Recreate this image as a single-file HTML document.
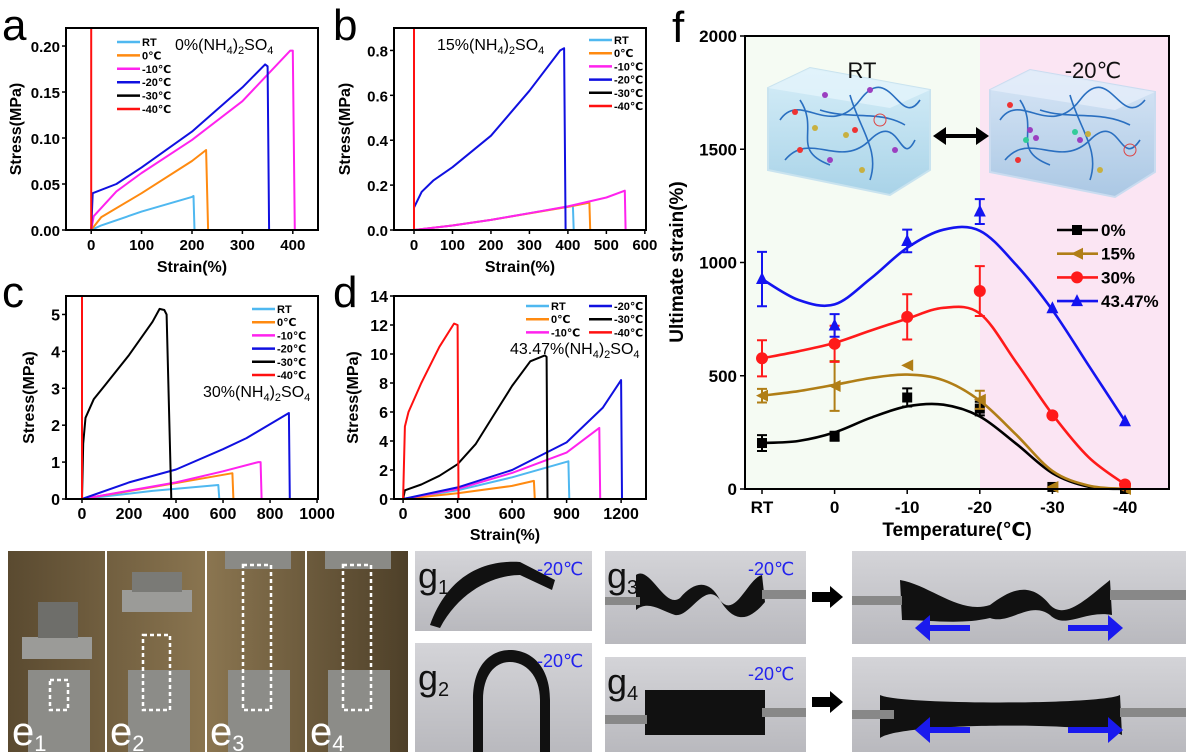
<!DOCTYPE html>
<html><head><meta charset="utf-8">
<style>
html,body{margin:0;padding:0;background:#fff;}
svg{display:block;font-family:"Liberation Sans","DejaVu Sans",sans-serif;}
</style></head>
<body>
<svg id="fig" width="1186" height="752" viewBox="0 0 1186 752" xmlns="http://www.w3.org/2000/svg">
<defs>
<linearGradient id="ephoto" x1="0" y1="0" x2="1" y2="0">
<stop offset="0" stop-color="#5a4a30"/><stop offset="0.5" stop-color="#8a7550"/><stop offset="1" stop-color="#4e4029"/>
</linearGradient>
<linearGradient id="gphoto" x1="0" y1="0" x2="0" y2="1">
<stop offset="0" stop-color="#d4d4d8"/><stop offset="1" stop-color="#b9b9be"/>
</linearGradient>
<linearGradient id="cube" x1="0" y1="0" x2="0" y2="1">
<stop offset="0" stop-color="#d6eef8"/><stop offset="1" stop-color="#a9d3e8"/>
</linearGradient>
<linearGradient id="cube2" x1="0" y1="0" x2="0" y2="1">
<stop offset="0" stop-color="#d8e6f6"/><stop offset="1" stop-color="#abc8e4"/>
</linearGradient>
</defs>

<rect x="745" y="36" width="235" height="453" fill="#f5fbf3"/>
<rect x="980" y="36" width="189" height="453" fill="#fbe5f3"/>

<g>
<polygon points="768,88 810,68 930,90 930,170 890,195 768,170" fill="url(#cube)" stroke="#c9e3ef" stroke-width="2"/>
<polygon points="768,88 810,68 930,90 890,108" fill="#e4f4fb" opacity="0.8"/>
<path d="M780,120 C800,90 830,140 860,100 S900,130 920,100 M785,160 C810,130 840,170 870,140 S900,170 915,140 M800,100 C820,130 790,150 830,165 M850,95 C860,130 880,150 870,180 M820,110 C850,120 880,110 905,125" fill="none" stroke="#2a6fc0" stroke-width="1.6"/>
<circle cx="795" cy="112" r="3" fill="#e33"/><circle cx="855" cy="130" r="3" fill="#e33"/><circle cx="800" cy="150" r="3" fill="#e33"/>
<circle cx="815" cy="128" r="3" fill="#c8b040"/><circle cx="846" cy="135" r="3" fill="#c8b040"/><circle cx="862" cy="170" r="3" fill="#c8b040"/>
<circle cx="825" cy="95" r="3" fill="#9b3fc0"/><circle cx="870" cy="90" r="3" fill="#9b3fc0"/><circle cx="895" cy="150" r="3" fill="#9b3fc0"/><circle cx="830" cy="160" r="3" fill="#9b3fc0"/>
<circle cx="880" cy="120" r="6" fill="none" stroke="#d44" stroke-width="1"/>
</g>
<g>
<polygon points="990,90 1030,70 1155,92 1155,172 1115,197 990,172" fill="url(#cube2)" stroke="#cadcf0" stroke-width="2"/>
<polygon points="990,90 1030,70 1155,92 1115,110" fill="#e5eefa" opacity="0.8"/>
<path d="M1000,120 C1020,90 1050,140 1080,100 S1120,130 1145,100 M1005,160 C1030,130 1060,170 1090,140 S1120,170 1140,140 M1020,100 C1040,130 1010,150 1050,165 M1070,95 C1080,130 1100,150 1090,180 M1040,110 C1070,120 1100,110 1130,125" fill="none" stroke="#2a6fc0" stroke-width="1.6"/>
<circle cx="1030" cy="130" r="3" fill="#9b3fc0"/><circle cx="1036" cy="138" r="3" fill="#9b3fc0"/><circle cx="1026" cy="140" r="3" fill="#3c9"/>
<circle cx="1080" cy="140" r="3" fill="#9b3fc0"/><circle cx="1088" cy="134" r="3" fill="#c8b040"/><circle cx="1075" cy="132" r="3" fill="#3c9"/>
<circle cx="1010" cy="105" r="3" fill="#e33"/><circle cx="1018" cy="160" r="3" fill="#e33"/><circle cx="1100" cy="170" r="3" fill="#c8b040"/>
<circle cx="1130" cy="150" r="6" fill="none" stroke="#d44" stroke-width="1"/>
</g>
<text x="862" y="78" font-size="22" text-anchor="middle" fill="#111">RT</text>
<text x="1093" y="78" font-size="22" text-anchor="middle" fill="#111">-20℃</text>
<g>
<line x1="942" y1="136" x2="980" y2="136" stroke="#000" stroke-width="4"/>
<polygon points="933,136 946,127 946,145" fill="#000"/><polygon points="989,136 976,127 976,145" fill="#000"/>
</g>

<g id="charts"></g>

<text x="2" y="40" font-size="44" fill="#000">a</text>
<text x="333" y="40" font-size="44" fill="#000">b</text>
<text x="2" y="307" font-size="44" fill="#000">c</text>
<text x="333" y="307" font-size="44" fill="#000">d</text>
<text x="672" y="42" font-size="44" fill="#000">f</text>

<g>
<rect x="8" y="551" width="400" height="201" fill="url(#ephoto)"/>
<line x1="106" y1="551" x2="106" y2="752" stroke="#fff" stroke-width="2"/>
<line x1="206" y1="551" x2="206" y2="752" stroke="#fff" stroke-width="2"/>
<line x1="306" y1="551" x2="306" y2="752" stroke="#fff" stroke-width="2"/>
<rect x="28" y="670" width="62" height="82" fill="#8c8c88"/><rect x="22" y="637" width="70" height="22" fill="#9b9b98"/><rect x="38" y="602" width="40" height="36" fill="#6e6e6a"/>
<rect x="128" y="670" width="62" height="82" fill="#8c8c88"/><rect x="122" y="590" width="70" height="22" fill="#9b9b98"/><rect x="132" y="572" width="50" height="20" fill="#7a7a76"/>
<rect x="228" y="670" width="62" height="82" fill="#8c8c88"/><rect x="225" y="551" width="66" height="18" fill="#8a8a86"/>
<rect x="328" y="670" width="62" height="82" fill="#8c8c88"/><rect x="325" y="551" width="66" height="18" fill="#8a8a86"/>
<rect x="50" y="680" width="18" height="30" fill="none" stroke="#fff" stroke-width="2.5" stroke-dasharray="4,3"/>
<rect x="143" y="635" width="27" height="75" fill="none" stroke="#fff" stroke-width="2.5" stroke-dasharray="4,3"/>
<rect x="243" y="565" width="28" height="145" fill="none" stroke="#fff" stroke-width="2.5" stroke-dasharray="4,3"/>
<rect x="343" y="565" width="28" height="145" fill="none" stroke="#fff" stroke-width="2.5" stroke-dasharray="4,3"/>
</g>
<text x="12" y="745" font-size="40" fill="#fff">e<tspan font-size="22" dy="6">1</tspan></text>
<text x="110" y="745" font-size="40" fill="#fff">e<tspan font-size="22" dy="6">2</tspan></text>
<text x="210" y="745" font-size="40" fill="#fff">e<tspan font-size="22" dy="6">3</tspan></text>
<text x="310" y="745" font-size="40" fill="#fff">e<tspan font-size="22" dy="6">4</tspan></text>

<g>
<rect x="415" y="551" width="177" height="80" fill="url(#gphoto)"/>
<rect x="415" y="643" width="177" height="109" fill="url(#gphoto)"/>
<rect x="605" y="551" width="201" height="93" fill="url(#gphoto)"/>
<rect x="605" y="657" width="201" height="95" fill="url(#gphoto)"/>
<rect x="852" y="551" width="334" height="93" fill="url(#gphoto)"/>
<rect x="852" y="657" width="334" height="95" fill="url(#gphoto)"/>
<path d="M430,625 C450,570 490,560 520,562 L555,580 L552,590 L520,575 C495,575 460,590 440,628 Z" fill="#111"/>
<path d="M473,752 L473,700 C473,660 495,650 510,650 C530,650 550,665 550,700 L550,752 L540,752 L540,700 C540,675 525,662 510,662 C495,662 483,675 483,700 L483,752 Z" fill="#111"/>
<path d="M636,575 C650,565 665,610 680,598 C695,580 710,580 720,600 C735,620 748,578 762,575 L765,602 C750,620 735,625 720,600 C705,580 690,618 675,615 C660,610 648,600 636,610 Z" fill="#111"/>
<path d="M900,580 C930,585 960,615 990,605 C1010,590 1030,580 1050,605 C1065,620 1085,600 1110,580 L1112,615 C1085,610 1065,630 1050,615 C1030,600 1010,625 990,618 C960,625 930,620 902,620 Z" fill="#111"/>
<rect x="645" y="690" width="120" height="45" fill="#111"/>
<path d="M880,695 C900,705 1100,705 1120,695 L1122,735 C1100,722 900,722 880,738 Z" fill="#111"/>
<rect x="605" y="597" width="35" height="8" fill="#888"/><rect x="762" y="590" width="44" height="9" fill="#888"/>
<rect x="852" y="596" width="50" height="9" fill="#888"/><rect x="1110" y="590" width="76" height="10" fill="#888"/>
<rect x="605" y="715" width="42" height="9" fill="#888"/><rect x="762" y="708" width="44" height="9" fill="#888"/>
<rect x="852" y="710" width="42" height="9" fill="#888"/><rect x="1120" y="708" width="66" height="9" fill="#888"/>
</g>
<text x="418" y="588" font-size="36" fill="#111">g<tspan font-size="20" dy="6">1</tspan></text>
<text x="418" y="690" font-size="36" fill="#111">g<tspan font-size="20" dy="6">2</tspan></text>
<text x="607" y="588" font-size="36" fill="#111">g<tspan font-size="20" dy="6">3</tspan></text>
<text x="607" y="694" font-size="36" fill="#111">g<tspan font-size="20" dy="6">4</tspan></text>
<text x="537" y="575" font-size="18" fill="#2222ee">-20℃</text>
<text x="537" y="667" font-size="18" fill="#2222ee">-20℃</text>
<text x="748" y="575" font-size="18" fill="#2222ee">-20℃</text>
<text x="748" y="680" font-size="18" fill="#2222ee">-20℃</text>
<g>
<rect x="812" y="592" width="20" height="10" fill="#000"/><polygon points="830,586 843,597 830,608" fill="#000"/>
<rect x="812" y="697" width="20" height="10" fill="#000"/><polygon points="830,691 843,702 830,713" fill="#000"/>
</g>
<g fill="#1a1aee">
<rect x="925" y="625" width="45" height="6"/><polygon points="915,628 930,615 930,641"/>
<rect x="1068" y="625" width="45" height="6"/><polygon points="1123,628 1108,615 1108,641"/>
<rect x="925" y="727" width="45" height="6"/><polygon points="915,730 930,717 930,743"/>
<rect x="1068" y="727" width="45" height="6"/><polygon points="1123,730 1108,717 1108,743"/>
</g>
</svg>

<script>
const aRT  = [[0,0],[20,0.005],[100,0.02],[200,0.036],[203,0.037],[205,0]];
const a0   = [[0,0],[20,0.014],[100,0.04],[200,0.075],[228,0.087],[232,0]];
const aM10 = [[0,0],[5,0.015],[50,0.042],[100,0.062],[200,0.098],[300,0.14],[395,0.195],[400,0.195],[404,0]];
const aM20 = [[0,0],[3,0.04],[50,0.05],[100,0.068],[200,0.107],[300,0.155],[345,0.18],[350,0.178],[353,0]];
const aM40 = [[0,0],[0,0.3]];
const bRT  = [[0,0],[100,0.02],[200,0.045],[300,0.075],[413,0.108],[415,0]];
const b0   = [[0,0],[100,0.02],[200,0.045],[300,0.074],[400,0.103],[456,0.122],[458,0]];
const bM10 = [[0,0],[100,0.02],[200,0.045],[300,0.075],[400,0.105],[500,0.145],[548,0.175],[550,0]];
const bM20 = [[0,0],[0,0.1],[20,0.17],[50,0.22],[100,0.28],[200,0.42],[300,0.62],[380,0.8],[390,0.81],[394,0]];
const bM40 = [[0,0],[0,1]];
const cRT  = [[0,0],[300,0.22],[580,0.38],[584,0]];
const c0   = [[0,0],[300,0.32],[640,0.7],[644,0]];
const cM10 = [[0,0],[400,0.45],[600,0.75],[750,1.0],[760,1.0],[764,0]];
const cM20 = [[0,0],[200,0.45],[400,0.8],[600,1.35],[700,1.65],[880,2.33],[884,0]];
const cM30 = [[0,0],[5,1.5],[15,2.2],[50,2.7],[100,3.1],[200,3.9],[300,4.8],[330,5.15],[350,5.12],[360,5.0],[380,0]];
const cM40 = [[0,0],[0,6]];
const dRT  = [[0,0],[300,0.6],[600,1.5],[910,2.6],[915,0]];
const d0   = [[0,0],[300,0.4],[600,0.9],[720,1.25],[725,0]];
const dM10 = [[0,0],[300,0.7],[600,1.8],[900,3.2],[1080,4.9],[1085,0]];
const dM20 = [[0,0],[300,0.8],[600,2.0],[900,3.9],[1100,6.3],[1200,8.2],[1205,0]];
const dM30 = [[0,0],[10,0.6],[100,1.0],[200,1.6],[300,2.4],[400,3.8],[500,5.8],[600,7.8],[700,9.5],[780,9.9],[790,9.8],[795,0]];
const dM40 = [[0,0],[10,5],[30,6],[100,8],[200,10.5],[280,12.1],[300,12],[305,0]];
const fCats = ["RT","0","-10","-20","-30","-40"];
const fYTicks = [0,500,1000,1500,2000];
const f0  = [203,233,404,355,9,0];
const f15 = [412,455,546,394,9,0];
const f30 = [577,641,760,874,325,20];
const f43 = [927,722,1095,1225,798,299];
const f0Err  = [35,20,40,30,0,0];
const f15Err = [30,110,0,40,0,0];
const f30Err = [80,80,100,110,0,0];
const f43Err = [120,50,50,55,0,0];
const f0Fit  = [203,212,250,315,365,372,320,200,70,10,0];
const f15Fit = [412,432,460,490,505,480,390,240,80,15,0];
const f30Fit = [577,608,645,700,752,800,775,560,330,140,20];
const f43Fit = [927,835,815,930,1065,1145,1140,990,790,545,300];

const NS = "http://www.w3.org/2000/svg";
const root = document.getElementById("charts");
function mk(tag, attrs, parent){
  const e = document.createElementNS(NS, tag);
  for (const k in attrs) e.setAttribute(k, attrs[k]);
  (parent||root).appendChild(e);
  return e;
}
const COL = {RT:"#4fb8f0", c0:"#ff8a10", m10:"#ff22ee", m20:"#1010e0", m30:"#000000", m40:"#ff1010"};

function panel(p){
  const g = mk("g", {});
  
  
  const sx = v => p.x0 + (v - p.xmin) / (p.xmax - p.xmin) * (p.x1 - p.x0);
  const sy = v => p.y1 - (v - p.ymin) / (p.ymax - p.ymin) * (p.y1 - p.y0);
  const cid = "clip-" + p.name;
  const cp = mk("clipPath", {id: cid}, g);
  mk("rect", {x:p.x0, y:p.y0, width:p.x1-p.x0, height:p.y1-p.y0}, cp);
  const sg = mk("g", {"clip-path":"url(#"+cid+")"}, g);
  p.series.forEach(s => {
    const d = s.data.map((pt,i) => (i?"L":"M") + sx(pt[0]).toFixed(1) + "," + sy(pt[1]).toFixed(1)).join(" ");
    const path = mk("path", {d:d, fill:"none", stroke:s.color, "stroke-width":2, "stroke-linejoin":"round"}, sg);
    
    
  });
  const fr = mk("rect", {x:p.x0, y:p.y0, width:p.x1-p.x0, height:p.y1-p.y0, fill:"none", stroke:"#000", "stroke-width":2}, g);
  
  
  p.xticks.forEach(v => {
    const x = sx(v);
    mk("line", {x1:x, x2:x, y1:p.y1, y2:p.y1+4, stroke:"#000", "stroke-width":1.5}, g);
    const t = mk("text", {x:x, y:p.y1+20, "text-anchor":"middle", "font-size":p.fs, "font-weight":"bold"}, g);
    t.textContent = String(v);
    
    
  });
  p.yticks.forEach(v => {
    const y = sy(v);
    mk("line", {x1:p.x0-4, x2:p.x0, y1:y, y2:y, stroke:"#000", "stroke-width":1.5}, g);
    const t = mk("text", {x:p.x0-6, y:y+6, "text-anchor":"end", "font-size":p.fs, "font-weight":"bold"}, g);
    t.textContent = p.yfmt(v);
    
    
  });
  const yt = mk("text", {x:0, y:0, transform:"translate("+p.ytx+","+((p.y0+p.y1)/2)+") rotate(-90)", "text-anchor":"middle", "font-size":16, "font-weight":"bold"}, g);
  yt.textContent = "Stress(MPa)";
  
  
  if (p.xtitle){
    const xt = mk("text", {x:p.xtx, y:p.xty, "text-anchor":"middle", "font-size":16, "font-weight":"bold"}, g);
    xt.textContent = "Strain(%)";
    
    
  }
  p.legend.forEach(L => {
    mk("line", {x1:L.x, x2:L.x+L.w, y1:L.y, y2:L.y, stroke:L.color, "stroke-width":2.5}, g);
    const t = mk("text", {x:L.x+L.w+2, y:L.y+4, "font-size":11, "font-weight":"bold"}, g);
    t.textContent = L.label;
    
    
  });
  const tt = mk("text", {x:p.tx, y:p.ty, "font-size":16}, g);
  tt.innerHTML = p.title + '(NH<tspan font-size="11" dy="4">4</tspan><tspan dy="-4">)</tspan><tspan font-size="11" dy="4">2</tspan><tspan dy="-4">SO</tspan><tspan font-size="11" dy="4">4</tspan>';
  
  
}
function leg6(x, y0, dy, w, cols){
  const labels = ["RT","0℃","-10℃","-20℃","-30℃","-40℃"];
  const colors = [COL.RT, COL.c0, COL.m10, COL.m20, COL.m30, COL.m40];
  return labels.map((l,i) => cols
    ? {x: x + Math.floor(i/3)*63, y: y0 + (i%3)*dy, w: w, label: l, color: colors[i]}
    : {x: x, y: y0 + i*dy, w: w, label: l, color: colors[i]});
}

panel({name:"panel-a", x0:66, x1:318, y0:28, y1:230, xmin:-50, xmax:450, ymin:0, ymax:0.2196,
  xticks:[0,100,200,300,400], yticks:[0,0.05,0.10,0.15,0.20], yfmt:v=>v.toFixed(2), fs:15,
  ytx:21, xtitle:true, xtx:192, xty:272, tx:175, ty:50, title:"0%",
  legend: leg6(117, 42, 13.4, 23),
  series:[{name:"a-rt",data:aRT,color:COL.RT},{name:"a-0c",data:a0,color:COL.c0},{name:"a-m10c",data:aM10,color:COL.m10},{name:"a-m20c",data:aM20,color:COL.m20},{name:"a-m40c",data:aM40,color:COL.m40}]});
panel({name:"panel-b", x0:394, x1:646, y0:28, y1:230, xmin:-52, xmax:603, ymin:0, ymax:0.9,
  xticks:[0,100,200,300,400,500,600], yticks:[0,0.2,0.4,0.6,0.8], yfmt:v=>v.toFixed(1), fs:15,
  ytx:350, xtitle:true, xtx:520, xty:272, tx:437, ty:50, title:"15%",
  legend: leg6(589, 40, 13.2, 23),
  series:[{name:"b-rt",data:bRT,color:COL.RT},{name:"b-0c",data:b0,color:COL.c0},{name:"b-m10c",data:bM10,color:COL.m10},{name:"b-m20c",data:bM20,color:COL.m20},{name:"b-m40c",data:bM40,color:COL.m40}]});
panel({name:"panel-c", x0:66, x1:318, y0:296, y1:499, xmin:-68, xmax:1004, ymin:0, ymax:5.5,
  xticks:[0,200,400,600,800,1000], yticks:[0,1,2,3,4,5], yfmt:v=>String(v), fs:16,
  ytx:34, xtitle:false, tx:203, ty:397, title:"30%",
  legend: leg6(252, 309, 13.2, 23),
  series:[{name:"c-rt",data:cRT,color:COL.RT},{name:"c-0c",data:c0,color:COL.c0},{name:"c-m10c",data:cM10,color:COL.m10},{name:"c-m20c",data:cM20,color:COL.m20},{name:"c-m30c",data:cM30,color:COL.m30},{name:"c-m40c",data:cM40,color:COL.m40}]});
panel({name:"panel-d", x0:394, x1:646, y0:296, y1:499, xmin:-50, xmax:1337, ymin:0, ymax:14,
  xticks:[0,300,600,900,1200], yticks:[0,2,4,6,8,10,12,14], yfmt:v=>String(v), fs:16,
  ytx:358, xtitle:true, xtx:505, xty:540, tx:510, ty:354, title:"43.47%",
  legend: leg6(526, 306, 13.2, 23, true),
  series:[{name:"d-rt",data:dRT,color:COL.RT},{name:"d-0c",data:d0,color:COL.c0},{name:"d-m10c",data:dM10,color:COL.m10},{name:"d-m20c",data:dM20,color:COL.m20},{name:"d-m30c",data:dM30,color:COL.m30},{name:"d-m40c",data:dM40,color:COL.m40}]});

(function(){
  const X0=745, X1=1169, Y0=36, Y1=489;
  const g = mk("g", {});
  
  
  const sx = i => 762 + i * 72.6;
  const sy = v => Y1 - v / 2000 * (Y1 - Y0);
  const series = [
    {name:"0%", vals:f0, err:f0Err, fit:f0Fit, color:"#000000", m:"sq"},
    {name:"15%", vals:f15, err:f15Err, fit:f15Fit, color:"#b07e16", m:"lt"},
    {name:"30%", vals:f30, err:f30Err, fit:f30Fit, color:"#ff1a1a", m:"ci"},
    {name:"43.47%", vals:f43, err:f43Err, fit:f43Fit, color:"#1414f0", m:"tu"}];
  function marker(par, m, x, y, c, s){
    let e;
    if (m==="sq") e = mk("rect", {x:x-s, y:y-s, width:2*s, height:2*s, fill:c}, par);
    else if (m==="ci") e = mk("circle", {cx:x, cy:y, r:s+1, fill:c}, par);
    else if (m==="lt") e = mk("polygon", {points:(x-s-1)+","+y+" "+(x+s+1)+","+(y-s-1)+" "+(x+s+1)+","+(y+s+1), fill:c}, par);
    else e = mk("polygon", {points:x+","+(y-s-2)+" "+(x-s-1)+","+(y+s)+" "+(x+s+1)+","+(y+s), fill:c}, par);
    return e;
  }
  series.forEach(s => {
    const pts = s.fit.map((v,i) => [762 + i*36.3, sy(v)]);
    let d = "M" + pts[0][0] + "," + pts[0][1];
    for (let i=0;i<pts.length-1;i++){
      const p0 = pts[Math.max(0,i-1)], p1 = pts[i], p2 = pts[i+1], p3 = pts[Math.min(pts.length-1,i+2)];
      const c1x = p1[0] + (p2[0]-p0[0])/6, c1y = p1[1] + (p2[1]-p0[1])/6;
      const c2x = p2[0] - (p3[0]-p1[0])/6, c2y = p2[1] - (p3[1]-p1[1])/6;
      d += " C" + c1x.toFixed(1)+","+c1y.toFixed(1)+" "+c2x.toFixed(1)+","+c2y.toFixed(1)+" "+p2[0].toFixed(1)+","+p2[1].toFixed(1);
    }
    const fp = mk("path", {d:d, fill:"none", stroke:s.color, "stroke-width":2.6}, g);
    
    
    s.vals.forEach((v,i) => {
      const x = sx(i), y = sy(v);
      if (s.err[i] > 0){
        const eb = mk("path", {d:"M"+x+","+sy(v-s.err[i])+"V"+sy(v+s.err[i])+"M"+(x-5)+","+sy(v+s.err[i])+"h10M"+(x-5)+","+sy(v-s.err[i])+"h10", stroke:s.color, "stroke-width":2, fill:"none"}, g);
        
        
      }
      const mm = marker(g, s.m, x, y, s.color, 5);
      
      
    });
  });
  const fr = mk("rect", {x:X0, y:Y0, width:X1-X0, height:Y1-Y0, fill:"none", stroke:"#000", "stroke-width":2}, g);
  
  
  fCats.forEach((c,i) => {
    const x = sx(i);
    mk("line", {x1:x, x2:x, y1:Y1, y2:Y1+5, stroke:"#000", "stroke-width":1.5}, g);
    const t = mk("text", {x:x, y:Y1+24, "text-anchor":"middle", "font-size":17, "font-weight":"bold"}, g);
    t.textContent = c;
    
    
  });
  fYTicks.forEach(v => {
    const y = sy(v);
    mk("line", {x1:X0-5, x2:X0, y1:y, y2:y, stroke:"#000", "stroke-width":1.5}, g);
    const t = mk("text", {x:X0-8, y:y+6, "text-anchor":"end", "font-size":17, "font-weight":"bold"}, g);
    t.textContent = String(v);
    
    
  });
  const yt = mk("text", {transform:"translate(683,262) rotate(-90)", "text-anchor":"middle", "font-size":19, "font-weight":"bold"}, g);
  yt.textContent = "Ultimate strain(%)";
  
  
  const xt = mk("text", {x:957, y:536, "text-anchor":"middle", "font-size":19, "font-weight":"bold"}, g);
  xt.textContent = "Temperature(℃)";
  
  
  series.forEach((s,i) => {
    const y = 230 + i*23.7;
    mk("line", {x1:1057, x2:1098, y1:y, y2:y, stroke:s.color, "stroke-width":2.6}, g);
    const mm = marker(g, s.m, 1077, y, s.color, 5);
    
    
    const t = mk("text", {x:1101, y:y+6, "font-size":17, "font-weight":"bold"}, g);
    t.textContent = s.name;
    
    
  });
})();
</script>
</body></html>
